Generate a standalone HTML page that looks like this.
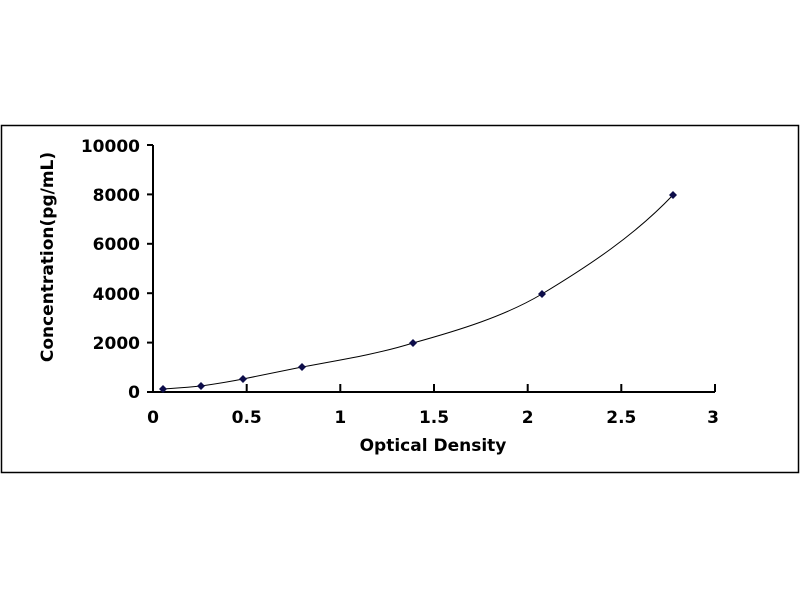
<!DOCTYPE html>
<html><head><style>body{margin:0;background:#fff}svg{display:block}</style></head><body>
<svg width="800" height="600" xmlns="http://www.w3.org/2000/svg" font-family="DejaVu Sans, Liberation Sans, sans-serif" font-weight="bold">
<rect x="1.5" y="125.5" width="797" height="347" fill="#fff" stroke="#000" stroke-width="1.5"/>
<g stroke="#000" stroke-width="2" fill="none">
<line x1="153" y1="145" x2="153" y2="392"/>
<line x1="153" y1="392" x2="715" y2="392"/>
<line x1="147" y1="145" x2="153" y2="145"/>
<line x1="147" y1="194.4" x2="153" y2="194.4"/>
<line x1="147" y1="243.8" x2="153" y2="243.8"/>
<line x1="147" y1="293.2" x2="153" y2="293.2"/>
<line x1="147" y1="342.6" x2="153" y2="342.6"/>
<line x1="147" y1="392" x2="153" y2="392"/>
<line x1="246.7" y1="384" x2="246.7" y2="392"/>
<line x1="340.3" y1="384" x2="340.3" y2="392"/>
<line x1="434" y1="384" x2="434" y2="392"/>
<line x1="527.7" y1="384" x2="527.7" y2="392"/>
<line x1="621.3" y1="384" x2="621.3" y2="392"/>
<line x1="715" y1="384" x2="715" y2="392"/>
</g>
<g font-size="17" text-anchor="end" fill="#000">
<text x="140" y="152">10000</text>
<text x="140" y="201">8000</text>
<text x="140" y="250">6000</text>
<text x="140" y="300">4000</text>
<text x="140" y="349">2000</text>
<text x="140" y="398">0</text>
</g>
<g font-size="17" text-anchor="middle" fill="#000">
<text x="153" y="423">0</text>
<text x="246.7" y="423">0.5</text>
<text x="340.3" y="423">1</text>
<text x="434" y="423">1.5</text>
<text x="527.7" y="423">2</text>
<text x="621.3" y="423">2.5</text>
<text x="713" y="423">3</text>
<text x="433" y="451">Optical Density</text>
<text transform="translate(53,257) rotate(-90)">Concentration(pg/mL)</text>
</g>
<path d="M163,389 C180,388 190,387 201,386 C215,384 228,382 243,379 C262,375 282,371 302,367 C340,360 378,354 413,343 C460,330 505,316 542,294 C590,265 635,235 673,195" fill="none" stroke="#000" stroke-width="1"/>
<g fill="#0d0d4a">
<path d="M163,385 l4,4 l-4,4 l-4,-4z"/>
<path d="M201,382 l4,4 l-4,4 l-4,-4z"/>
<path d="M243,375 l4,4 l-4,4 l-4,-4z"/>
<path d="M302,363 l4,4 l-4,4 l-4,-4z"/>
<path d="M413,339 l4,4 l-4,4 l-4,-4z"/>
<path d="M542,290 l4,4 l-4,4 l-4,-4z"/>
<path d="M673,191 l4,4 l-4,4 l-4,-4z"/>
</g>
</svg>
</body></html>
